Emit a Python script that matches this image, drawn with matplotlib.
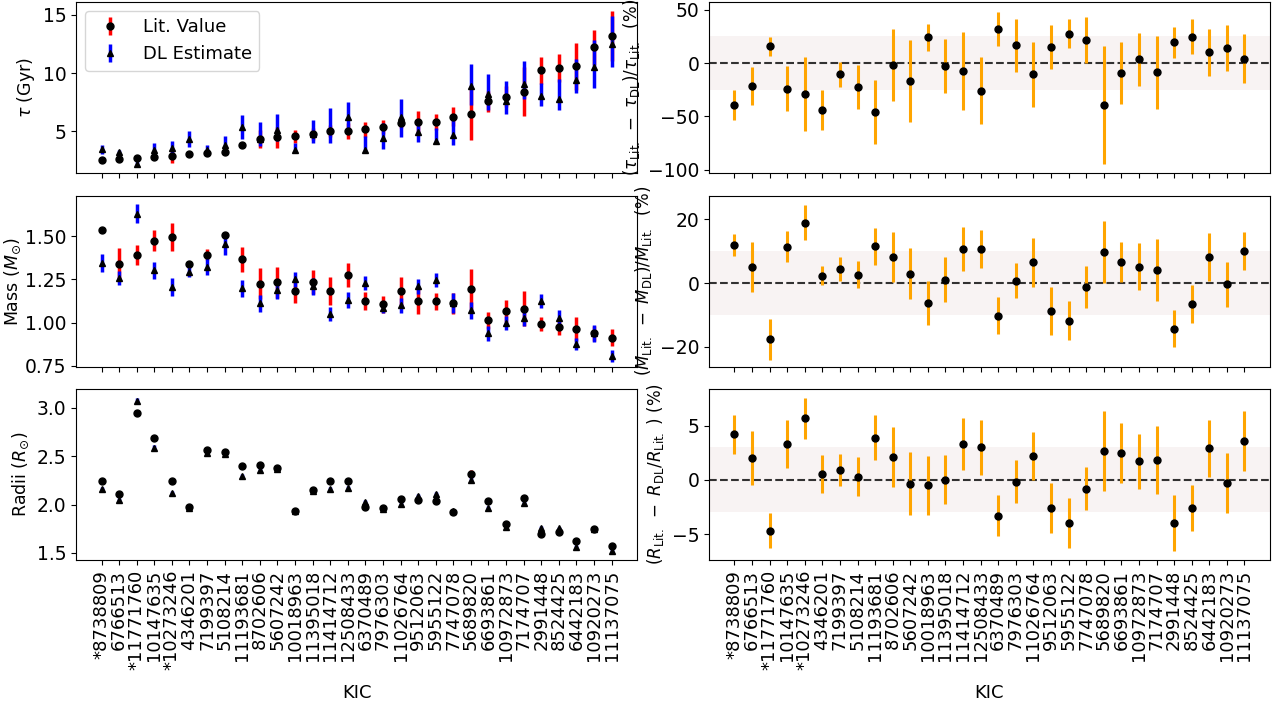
import numpy as np
import matplotlib
matplotlib.use("Agg")
import matplotlib.pyplot as plt

# KIC identifiers (asterisk marks the flagged stars)
kic = ['*8738809', '6766513', '*11771760', '10147635', '*10273246', '4346201',
       '7199397', '5108214', '11193681', '8702606', '5607242', '10018963',
       '11395018', '11414712', '12508433', '6370489', '7976303', '11026764',
       '9512063', '5955122', '7747078', '5689820', '6693861', '10972873',
       '7174707', '2991448', '8524425', '6442183', '10920273', '11137075']

# Ages (Gyr)
age_lit = [2.50, 2.64, 2.67, 2.76, 2.84, 3.07, 3.12, 3.18, 3.78, 4.35,
           4.49, 4.57, 4.77, 5.00, 5.00, 5.17, 5.40, 5.74, 5.82, 5.82,
           6.25, 6.50, 7.59, 7.98, 8.41, 10.23, 10.40, 10.57, 12.22, 13.21]
age_lit_err = [0.10, 0.10, 0.15, 0.15, 0.60, 0.10, 0.10, 0.10, 0.10, 0.75,
               0.90, 0.55, 0.50, 0.50, 0.70, 0.63, 0.60, 0.50, 0.90, 0.68,
               0.80, 2.27, 0.90, 0.90, 2.10, 1.17, 1.20, 2.00, 1.50, 2.16]
age_dl = [3.44, 3.18, 2.22, 3.35, 3.55, 4.35, 3.35, 3.84, 5.34, 4.35,
          5.14, 3.41, 4.77, 5.14, 6.22, 3.41, 4.40, 6.22, 4.91, 4.18,
          4.72, 8.89, 8.21, 7.61, 9.03, 8.07, 7.73, 9.38, 10.48, 12.53]
age_dl_lo = [0.37, 0.20, 0.30, 0.65, 0.60, 0.67, 0.45, 0.73, 1.00, 0.60,
             1.00, 0.15, 0.78, 1.14, 1.36, 0.15, 0.96, 1.70, 0.85, 0.20,
             0.90, 1.60, 1.36, 1.15, 1.25, 0.94, 0.88, 1.10, 1.80, 2.05]
age_dl_hi = [0.37, 0.20, 0.30, 0.65, 0.60, 0.65, 0.45, 0.73, 1.02, 1.45,
             1.34, 0.60, 1.22, 1.85, 1.28, 1.16, 1.30, 1.53, 1.10, 1.10,
             1.70, 1.93, 1.70, 1.71, 2.02, 1.05, 1.76, 1.84, 2.39, 2.40]

# Masses (Msun)
mass_lit = [1.535, 1.337, 1.393, 1.473, 1.496, 1.337, 1.393, 1.506, 1.366, 1.225,
            1.234, 1.184, 1.234, 1.184, 1.275, 1.124, 1.105, 1.184, 1.122, 1.122,
            1.112, 1.196, 1.014, 1.066, 1.081, 0.992, 0.975, 0.963, 0.938, 0.913]
mass_lit_err = [0.005, 0.095, 0.058, 0.060, 0.080, 0.020, 0.030, 0.020, 0.072, 0.089,
                0.090, 0.070, 0.070, 0.080, 0.070, 0.053, 0.050, 0.080, 0.070, 0.050,
                0.060, 0.116, 0.050, 0.065, 0.100, 0.040, 0.045, 0.068, 0.045, 0.050]
mass_dl = [1.345, 1.256, 1.630, 1.302, 1.205, 1.295, 1.324, 1.453, 1.198, 1.112,
           1.186, 1.250, 1.209, 1.050, 1.132, 1.229, 1.083, 1.099, 1.209, 1.244,
           1.112, 1.070, 0.938, 0.998, 1.025, 1.126, 1.027, 0.876, 0.938, 0.808]
mass_dl_err = [0.050, 0.040, 0.055, 0.050, 0.050, 0.030, 0.050, 0.060, 0.050, 0.050,
               0.050, 0.045, 0.050, 0.040, 0.045, 0.040, 0.030, 0.045, 0.045, 0.040,
               0.058, 0.050, 0.045, 0.040, 0.045, 0.040, 0.045, 0.035, 0.050, 0.035]

# Radii (Rsun)
rad_lit = [2.247, 2.113, 2.944, 2.683, 2.240, 1.973, 2.563, 2.542, 2.395, 2.412,
           2.374, 1.938, 2.154, 2.240, 2.240, 1.976, 1.966, 2.058, 2.051, 2.038,
           1.918, 2.319, 2.041, 1.797, 2.072, 1.698, 1.718, 1.619, 1.749, 1.576]
rad_lit_err = [0.015, 0.020, 0.015, 0.020, 0.015, 0.015, 0.015, 0.015, 0.020, 0.030,
               0.025, 0.025, 0.020, 0.025, 0.025, 0.015, 0.015, 0.015, 0.020, 0.015,
               0.015, 0.040, 0.020, 0.020, 0.030, 0.015, 0.015, 0.020, 0.015, 0.020]
rad_dl = [2.158, 2.050, 3.071, 2.587, 2.117, 1.962, 2.536, 2.525, 2.295, 2.354,
          2.371, 1.935, 2.144, 2.165, 2.172, 2.027, 1.959, 2.003, 2.086, 2.113,
          1.931, 2.251, 1.969, 1.767, 2.021, 1.760, 1.753, 1.561, 1.746, 1.523]
rad_dl_err = [0.025, 0.020, 0.030, 0.030, 0.025, 0.015, 0.020, 0.020, 0.025, 0.025,
              0.025, 0.015, 0.020, 0.020, 0.020, 0.025, 0.015, 0.020, 0.025, 0.020,
              0.020, 0.030, 0.020, 0.020, 0.020, 0.020, 0.020, 0.020, 0.015, 0.020]

# Percent differences (Lit - DL)/Lit
age_pct = [-39.0, -21.5, 15.8, -24.0, -29.0, -44.0, -10.6, -22.4, -45.5, -1.8,
           -17.0, 24.0, -2.7, -7.3, -25.8, 31.8, 16.7, -10.6, 14.8, 27.3,
           21.8, -39.0, -9.7, 3.6, -8.8, 19.4, 24.8, 10.3, 14.2, 4.2]
age_pct_err = [14.0, 18.0, 9.0, 21.0, 35.0, 19.0, 11.5, 21.0, 30.0, 33.5,
               38.5, 12.7, 25.5, 36.6, 31.3, 15.8, 24.8, 30.3, 20.4, 13.6,
               21.7, 55.0, 29.0, 24.7, 34.5, 14.5, 16.5, 22.0, 21.6, 22.9]
mass_pct = [12.0, 5.1, -17.7, 11.4, 19.0, 2.3, 4.5, 2.6, 11.5, 8.1,
            3.0, -6.2, 1.1, 10.6, 10.6, -10.2, 0.8, 6.5, -8.8, -11.8,
            -1.3, 9.8, 6.5, 5.1, 4.1, -14.3, -6.5, 8.2, -0.4, 10.2]
mass_pct_err = [3.4, 7.9, 6.5, 4.9, 5.4, 3.0, 3.8, 4.2, 5.7, 7.8,
                8.0, 6.9, 7.0, 6.9, 6.0, 5.9, 5.6, 7.6, 7.6, 6.2,
                6.6, 9.8, 6.3, 7.4, 9.8, 5.8, 6.0, 7.4, 7.0, 6.0]
rad_pct = [4.2, 2.0, -4.7, 3.3, 5.7, 0.55, 0.9, 0.27, 3.9, 2.1,
           -0.36, -0.5, 0.03, 3.3, 3.0, -3.3, -0.15, 2.2, -2.6, -4.0,
           -0.8, 2.7, 2.5, 1.7, 1.8, -4.0, -2.6, 2.9, -0.27, 3.6]
rad_pct_err = [1.8, 2.5, 1.6, 2.2, 1.9, 1.75, 1.45, 1.8, 2.1, 2.8,
               2.9, 2.75, 2.3, 2.4, 2.55, 1.9, 1.95, 2.25, 2.3, 2.3,
               1.95, 3.7, 2.8, 2.55, 3.15, 2.6, 2.1, 2.65, 2.75, 2.75]

plt.rcParams['font.size'] = 12
plt.rcParams['ytick.labelsize'] = 13.5
plt.rcParams['xtick.labelsize'] = 13

x = np.arange(len(kic))

fig, axes = plt.subplots(3, 2, figsize=(12.78, 7.02), dpi=100)
fig.subplots_adjust(left=0.0595, right=0.9937, top=0.997, bottom=0.2023,
                    hspace=0.131, wspace=0.128)


def plot_pair(ax, lit, lit_err, dl, dl_err):
    h1 = ax.errorbar(x, lit, yerr=lit_err, fmt='o', color='k', ecolor='red',
                     elinewidth=2.5, markersize=5, zorder=3)
    h2 = ax.errorbar(x, dl, yerr=dl_err, fmt='^', color='k', ecolor='blue',
                     elinewidth=2.5, markersize=5, zorder=3)
    h1[2][0].set_zorder(1)
    h2[2][0].set_zorder(2)
    return h1, h2


def plot_pct(ax, pct, pct_err, band):
    ax.axhspan(-band, band, color='rosybrown', alpha=0.1, lw=0)
    ax.axhline(0, color='k', ls='--', lw=1.5, alpha=0.8)
    ax.errorbar(x, pct, yerr=pct_err, fmt='o', color='k', ecolor='orange',
                elinewidth=2.2, markersize=5)


h1, h2 = plot_pair(axes[0, 0], age_lit, age_lit_err, age_dl, [age_dl_lo, age_dl_hi])
plot_pair(axes[1, 0], mass_lit, mass_lit_err, mass_dl, mass_dl_err)
plot_pair(axes[2, 0], rad_lit, rad_lit_err, rad_dl, rad_dl_err)
axes[0, 0].legend([h1, h2], ['Lit. Value', 'DL Estimate'], loc='upper left', fontsize=13)

plot_pct(axes[0, 1], age_pct, age_pct_err, 25)
plot_pct(axes[1, 1], mass_pct, mass_pct_err, 10)
plot_pct(axes[2, 1], rad_pct, rad_pct_err, 3)

axes[0, 0].set_ylim(1.4, 16.1)
axes[0, 0].set_yticks([5, 10, 15])
axes[1, 0].set_ylim(0.746, 1.734)
axes[1, 0].set_yticks([0.75, 1.00, 1.25, 1.50])
axes[2, 0].set_ylim(1.427, 3.195)
axes[2, 0].set_yticks([1.5, 2.0, 2.5, 3.0])
axes[0, 1].set_ylim(-103, 57)
axes[0, 1].set_yticks([-100, -50, 0, 50])
axes[1, 1].set_ylim(-26.2, 27.5)
axes[1, 1].set_yticks([-20, 0, 20])
axes[2, 1].set_ylim(-7.4, 8.4)
axes[2, 1].set_yticks([-5, 0, 5])

axes[0, 0].set_ylabel(r'$\tau$ (Gyr)', fontsize=12.5)
axes[1, 0].set_ylabel(r'Mass ($M_{\odot}$)', fontsize=12.5, labelpad=1)
axes[2, 0].set_ylabel(r'Radii ($R_{\odot}$)', fontsize=12.5)
axes[0, 1].set_ylabel(r'$(\tau_{\rm Lit.}\ -\ \tau_{\rm DL})/\tau_{\rm Lit.}$  (%)')
axes[1, 1].set_ylabel(r'$(M_{\rm Lit.}\ -\ M_{\rm DL})/M_{\rm Lit.}$  (%)')
axes[2, 1].set_ylabel(r'$(R_{\rm Lit.}\ -\ R_{\rm DL}/R_{\rm Lit.}\ )$ (%)')

for ax in axes.flat:
    ax.set_xticks(x)
    ax.set_xticklabels([])
for ax in axes[2]:
    ax.set_xticklabels(kic, rotation=90)
    ax.set_xlabel('KIC', fontsize=13, labelpad=10)

fig.savefig('out.png', dpi=100)
